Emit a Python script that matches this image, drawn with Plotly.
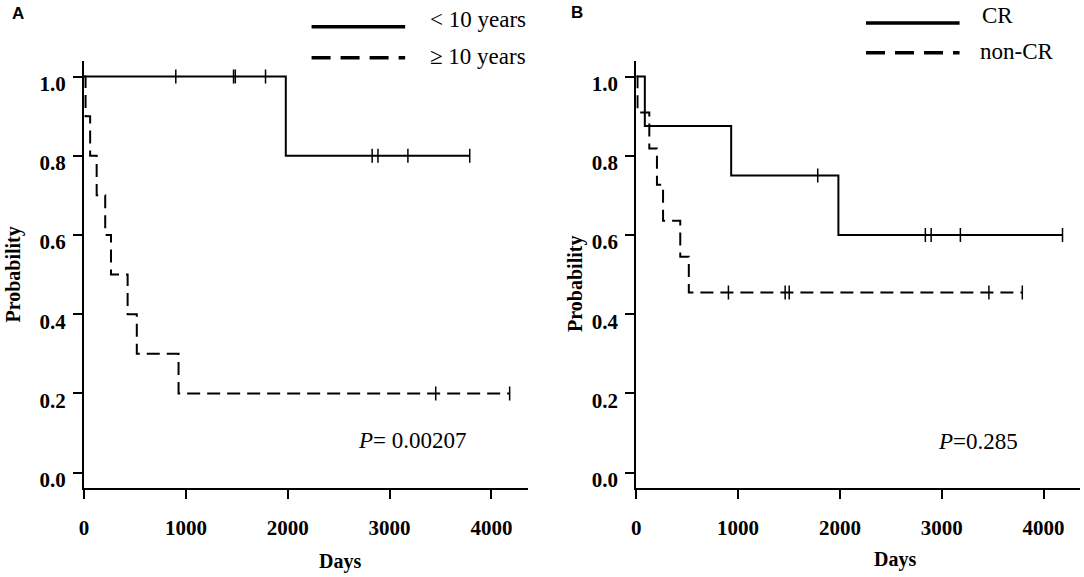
import plotly.graph_objects as go

W, H = 1084, 577

# Panel A: age groups (days, survival level after each event)
young_event_days = [1981]
young_surv = [0.8]
young_cens_days = [901, 1468, 1485, 1782, 2829, 2886, 3180, 3787]

old_event_days = [15, 60, 124, 208, 265, 428, 518, 928]
old_surv = [0.9, 0.8, 0.7, 0.6, 0.5, 0.4, 0.3, 0.2]
old_cens_days = [3453, 4179]

# Panel B: response groups
cr_event_days = [84, 932, 1985]
cr_surv = [0.875, 0.75, 0.6]
cr_cens_days = [1782, 2839, 2896, 3183, 4186]

noncr_event_days = [12, 128, 203, 263, 432, 516]
noncr_surv = [0.909, 0.818, 0.727, 0.636, 0.545, 0.455]
noncr_cens_days = [905, 1462, 1502, 3463, 3791]

p_values = ["0.00207", "0.285"]
x_ticks = [0, 1000, 2000, 3000, 4000]
y_ticks = [0.0, 0.2, 0.4, 0.6, 0.8, 1.0]

SERIF = "Liberation Serif"
DASH = "13px,7px"


def fx(px):
    return px / W


def fy(py):
    return 1 - py / H


def level_at(t, events, surv):
    s = 1.0
    for e, v in zip(events, surv):
        if e <= t:
            s = v
    return s


def km_traces(events, surv, cens, dash, xa, ya):
    end = max([events[-1]] + cens)
    xs = [0] + events + [end]
    ys = [1.0] + surv + [surv[-1]]
    line = go.Scatter(x=xs, y=ys, mode="lines", line_shape="hv",
                      line=dict(color="black", width=2, dash=dash),
                      xaxis=xa, yaxis=ya, showlegend=False, hoverinfo="skip")
    marks = go.Scatter(x=cens, y=[level_at(c, events, surv) for c in cens], mode="markers",
                       marker=dict(symbol="line-ns", size=10, color="black",
                                   line=dict(color="black", width=1.5)),
                       xaxis=xa, yaxis=ya, showlegend=False, hoverinfo="skip")
    return [line, marks]


fig = go.Figure()
for tr in km_traces(young_event_days, young_surv, young_cens_days, "solid", "x", "y"):
    fig.add_trace(tr)
for tr in km_traces(old_event_days, old_surv, old_cens_days, DASH, "x", "y"):
    fig.add_trace(tr)
for tr in km_traces(cr_event_days, cr_surv, cr_cens_days, "solid", "x2", "y2"):
    fig.add_trace(tr)
for tr in km_traces(noncr_event_days, noncr_surv, noncr_cens_days, DASH, "x2", "y2"):
    fig.add_trace(tr)

tickfont = dict(family=SERIF, size=21, color="black", weight="bold")
xcommon = dict(range=[0, 4355], showline=True, linecolor="black", linewidth=2,
               ticks="outside", ticklen=9, tickwidth=2, tickcolor="black",
               tickvals=x_ticks, showgrid=False, zeroline=False,
               tickfont=tickfont, ticklabelstandoff=10)
ycommon = dict(range=[-0.04, 1.04], domain=[fy(491), fy(61)], showline=True,
               linecolor="black", linewidth=2, ticks="outside", ticklen=9,
               tickwidth=2, tickcolor="black", tickvals=y_ticks, tickformat=".1f",
               showgrid=False, zeroline=False, tickfont=tickfont,
               ticklabelshift=7, ticklabelstandoff=3)

fig.update_layout(
    width=W, height=H, autosize=False,
    margin=dict(l=0, r=0, t=0, b=0),
    paper_bgcolor="white", plot_bgcolor="white",
    xaxis=dict(domain=[fx(79.4), fx(525)], anchor="y", **xcommon),
    yaxis=dict(anchor="x", **ycommon),
    xaxis2=dict(domain=[fx(634.2), fx(1079.7)], anchor="y2", **xcommon),
    yaxis2=dict(anchor="x2", **ycommon),
)

# legend keys drawn as short sample lines
legend_keys = [
    (308, 402, 27, "solid", "< 10 years", 425, 20),
    (308, 402, 58, "19px,10px", "≥ 10 years", 425, 57),
    (865, 959, 23, "solid", "CR", 980, 16),
    (865, 959, 53, "19px,10px", "non-CR", 978, 52),
]
for x0, x1, yy, dash, label, tx, ty in legend_keys:
    fig.add_shape(type="line", xref="paper", yref="paper", x0=fx(x0), x1=fx(x1),
                  y0=fy(yy), y1=fy(yy), line=dict(color="black", width=3.5, dash=dash))
    fig.add_annotation(xref="paper", yref="paper", x=fx(tx), y=fy(ty), text=label,
                       showarrow=False, xanchor="left", yanchor="middle",
                       font=dict(family=SERIF, size=23, color="black"))

texts = [
    ("A", 13, 14, dict(family="Liberation Sans", size=17, color="black", weight="bold"), 0),
    ("B", 575, 13, dict(family="Liberation Sans", size=17, color="black", weight="bold"), 0),
    ("Days", 337, 564, dict(family=SERIF, size=20, color="black", weight="bold"), 0),
    ("Days", 894, 562, dict(family=SERIF, size=20, color="black", weight="bold"), 0),
    ("Probability", 9, 276, dict(family=SERIF, size=20, color="black", weight="bold"), -90),
    ("Probability", 573, 285, dict(family=SERIF, size=20, color="black", weight="bold"), -90),
    ("<i>P</i>= " + p_values[0], 409, 443, dict(family=SERIF, size=23, color="black"), 0),
    ("<i>P</i>=" + p_values[1], 978, 444, dict(family=SERIF, size=23, color="black"), 0),
]
for txt, tx, ty, font, ang in texts:
    fig.add_annotation(xref="paper", yref="paper", x=fx(tx), y=fy(ty), text=txt,
                       showarrow=False, xanchor="center", yanchor="middle",
                       font=font, textangle=ang, borderpad=0)

fig.write_html("out.html", config={"displayModeBar": False},
               post_script="document.body.style.margin='0px';")
